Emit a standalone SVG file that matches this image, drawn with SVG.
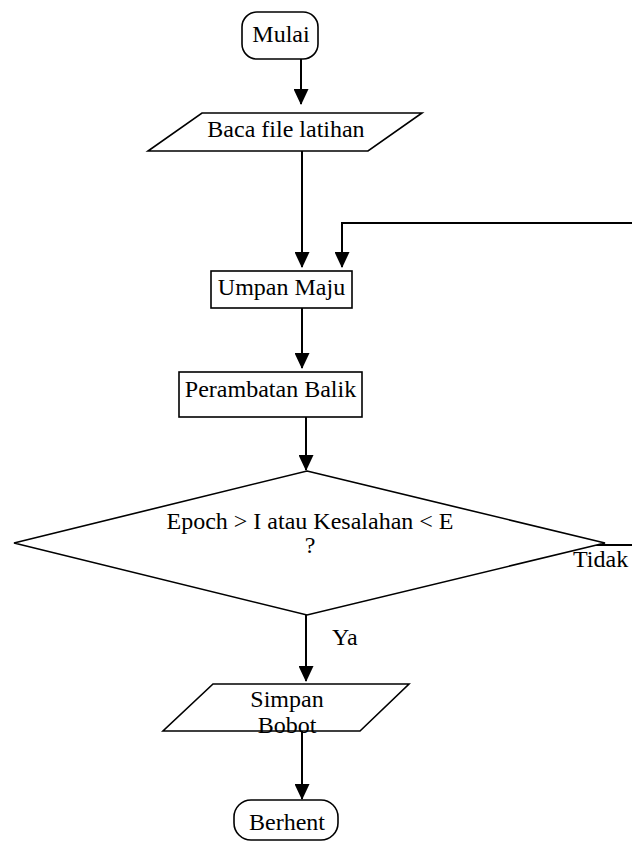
<svg xmlns="http://www.w3.org/2000/svg" width="632" height="843" viewBox="0 0 632 843">
<style>
  .shape { fill: #fff; stroke: #000; stroke-width: 1.6; }
  .conn { fill: none; stroke: #000; stroke-width: 2; }
  .lbl { font-family: "Liberation Serif", "Times New Roman", serif; font-size: 24px; fill: #000; }
  .mid { text-anchor: middle; }
</style>
<defs>
  <marker id="arr" viewBox="0 0 16 15" refX="15" refY="7.5" markerWidth="16" markerHeight="15" markerUnits="userSpaceOnUse" orient="auto">
    <path d="M0,0 L16,7.5 L0,15 z" fill="#000"/>
  </marker>
</defs>
<rect width="632" height="843" fill="#fff"/>

<g id="connectors">
  <path class="conn" d="M301,59 V104" marker-end="url(#arr)"/>
  <path class="conn" d="M302,151 V267" marker-end="url(#arr)"/>
  <path class="conn" d="M588,545 H632"/>
  <path class="conn" d="M632,223 H342 V267" marker-end="url(#arr)"/>
  <path class="conn" d="M302,308 V368" marker-end="url(#arr)"/>
  <path class="conn" d="M306,417 V470" marker-end="url(#arr)"/>
  <path class="conn" d="M306,615 V681" marker-end="url(#arr)"/>
  <path class="conn" d="M302,731 V799" marker-end="url(#arr)"/>
</g>

<g id="mulai">
  <rect class="shape" x="242" y="12" width="76" height="47" rx="15" ry="15"/>
  <text class="lbl mid" x="281" y="42">Mulai</text>
</g>

<g id="baca">
  <polygon class="shape" points="202,113 422,113 368,151 148,151"/>
  <text class="lbl mid" x="286" y="137">Baca file latihan</text>
</g>

<g id="umpan">
  <rect class="shape" x="211" y="271" width="141" height="37"/>
  <text class="lbl mid" x="281.5" y="295">Umpan Maju</text>
</g>

<g id="perambatan">
  <rect class="shape" x="179" y="372" width="183" height="45"/>
  <text class="lbl mid" x="270.5" y="397">Perambatan Balik</text>
</g>

<g id="keputusan">
  <polygon class="shape" points="307,471 605,543 307,615 14,543"/>
  <text class="lbl mid" x="310" y="529">Epoch &gt; I atau Kesalahan &lt; E</text>
  <text class="lbl mid" x="310" y="553">?</text>
</g>

<g id="label-tidak">
  <text class="lbl" x="573" y="567">Tidak</text>
</g>
<g id="label-ya">
  <text class="lbl" x="332" y="645">Ya</text>
</g>

<g id="simpan">
  <polygon class="shape" points="213,684 409,684 360,731 163,731"/>
  <text class="lbl mid" x="287" y="707">Simpan</text>
  <text class="lbl mid" x="287" y="733">Bobot</text>
</g>

<g id="berhenti">
  <rect class="shape" x="234" y="800" width="104" height="40" rx="17" ry="17"/>
  <text class="lbl mid" x="287" y="830">Berhent</text>
</g>
</svg>
